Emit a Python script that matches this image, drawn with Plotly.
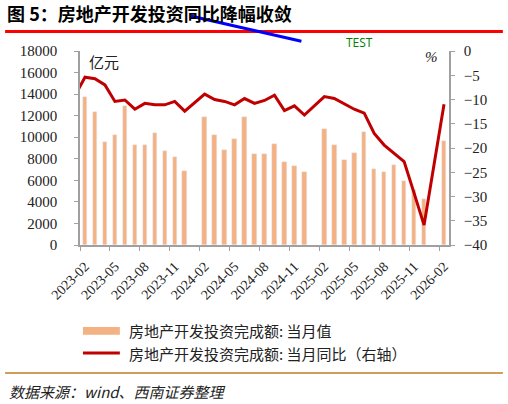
import plotly.graph_objects as go

# months shown on the axis (2023-02 .. 2026-02); the line also has a 2023-01 point
months = ["2023-01", "2023-02", "2023-03", "2023-04", "2023-05", "2023-06", "2023-07",
          "2023-08", "2023-09", "2023-10", "2023-11", "2023-12",
          "2024-01", "2024-02", "2024-03", "2024-04", "2024-05", "2024-06", "2024-07",
          "2024-08", "2024-09", "2024-10", "2024-11", "2024-12",
          "2025-01", "2025-02", "2025-03", "2025-04", "2025-05", "2025-06", "2025-07",
          "2025-08", "2025-09", "2025-10", "2025-11", "2025-12",
          "2026-01", "2026-02"]

# 当月值 (亿元), January has no separate figure
invest_value = [None, 13700, 12300, 9550, 10200, 12900, 9250,
                9250, 10400, 8700, 8150, 6900,
                None, 11900, 10200, 8800, 9800, 11900, 8430,
                8450, 9370, 7700, 7300, 6750,
                None, 10750, 9250, 7900, 8550, 10500, 7020,
                6750, 7420, 5930, 5100, 4250,
                None, 9680]

# 当月同比 (%)
invest_yoy = [-9.2, -5.4, -5.7, -7.0, -10.4, -10.1, -12.0,
              -10.8, -11.1, -11.1, -10.4, -12.4,
              None, -8.9, -10.0, -10.4, -11.1, -9.8, -10.8,
              -10.2, -9.1, -12.3, -11.3, -13.2,
              None, -9.4, -9.8, -10.9, -12.0, -12.8, -17.0,
              -19.4, -21.1, -22.8, -29.3, -35.9,
              None, -11.0]

tick_months = months[1::3]

# position of each month: 2023-02 sits at 0
xpos = [i - 1 for i in range(len(months))]
tick_pos = [xpos[months.index(m)] for m in tick_months]

serif = "Liberation Serif"
cjk = "Noto Sans CJK SC"
bar_color = "#F4B183"
line_color = "#C00000"
axis_gray = "#A0A0A0"

fig = go.Figure()
fig.add_trace(go.Bar(x=xpos, y=invest_value, marker_color=bar_color, width=0.45,
                     name="房地产开发投资完成额: 当月值", showlegend=False))
fig.add_trace(go.Scatter(x=xpos, y=invest_yoy, yaxis="y2", mode="lines",
                         line=dict(color=line_color, width=3), connectgaps=True,
                         name="房地产开发投资完成额: 当月同比（右轴）", showlegend=False))

fig.update_layout(
    width=508, height=404,
    margin=dict(l=80, r=59, t=51, b=159),
    paper_bgcolor="white", plot_bgcolor="white",
    title=dict(text="<b>图 5：房地产开发投资同比降幅收敛</b>", x=0.014, xanchor="left",
               y=0.963, yanchor="middle", font=dict(family=cjk, size=18, color="black")),
    xaxis=dict(range=[-0.5, 36.5], tickmode="array", tickvals=tick_pos, ticktext=tick_months,
               tickangle=-45, ticks="", showgrid=False, zeroline=False,
               showline=True, linecolor=axis_gray, linewidth=1.5,
               tickfont=dict(family=serif, size=14, color="#222"),
               ticklabelstandoff=6,
               minor=dict(tickmode="array", tickvals=[p - 0.5 for p in tick_pos],
                          ticks="outside", ticklen=4, tickcolor=axis_gray, showgrid=False)),
    yaxis=dict(range=[0, 18000], dtick=2000, tickformat="d", ticks="outside", ticklen=4,
               tickcolor=axis_gray, showline=True, linecolor=axis_gray, linewidth=1.5,
               showgrid=False, zeroline=False, ticklabelstandoff=14,
               tickfont=dict(family=serif, size=15, color="#222")),
    yaxis2=dict(range=[-40, 0], dtick=5, overlaying="y", side="right", ticks="outside",
                ticklen=4, tickcolor=axis_gray, showline=True, linecolor=axis_gray,
                linewidth=1.5, showgrid=False, zeroline=False, ticklabelstandoff=6,
                tickfont=dict(family=serif, size=15, color="#222")),
    bargap=0,
)

# unit labels inside the plot
fig.add_annotation(text="亿元", xref="paper", yref="paper", x=0.019, y=0.948,
                   xanchor="left", yanchor="middle", showarrow=False,
                   font=dict(family=cjk, size=15, color="#222"))
fig.add_annotation(text="%", xref="paper", yref="paper", x=0.975, y=0.969,
                   xanchor="right", yanchor="middle", showarrow=False,
                   font=dict(family=serif, size=15, color="#222", style="italic"))

# hand-made legend with wide swatches
fig.add_shape(type="rect", xref="paper", yref="paper", x0=0.008, x1=0.108,
              y0=-0.443 - 0.02, y1=-0.443 + 0.02, fillcolor=bar_color, line_width=0)
fig.add_annotation(text="房地产开发投资完成额: 当月值", xref="paper", yref="paper",
                   x=0.127, y=-0.443, xanchor="left", yanchor="middle", showarrow=False,
                   font=dict(family=cjk, size=15, color="#222"))
fig.add_shape(type="line", xref="paper", yref="paper", x0=0.008, x1=0.108,
              y0=-0.557, y1=-0.557, line=dict(color=line_color, width=3))
fig.add_annotation(text="房地产开发投资完成额: 当月同比（右轴）", xref="paper", yref="paper",
                   x=0.127, y=-0.557, xanchor="left", yanchor="middle", showarrow=False,
                   font=dict(family=cjk, size=15, color="#222"))

# header rule under the title: drawn from the bottom edge upward as a tall frame,
# only its top edge is visible (the other edges are white)
fig.add_shape(type="line", xref="paper", yref="paper", x0=-0.203, x1=1.146,
              y0=1.1, y1=1.1, line=dict(color="red", width=3))
fig.add_shape(type="line", xref="paper", yref="paper", x0=0.3, x1=0.6,
              y0=1.18, y1=1.05, line=dict(color="blue", width=3))
fig.add_annotation(text="TEST", xref="paper", yref="paper", x=0.8, y=1.1,
                   showarrow=False, font=dict(color="green", size=12))
# footer rule and source note
fig.add_shape(type="line", xref="paper", yref="paper", x0=-0.203, x1=1.146,
              y0=-0.66, y1=-0.66, line=dict(color="#D09E5A", width=2))
fig.add_annotation(text="数据来源：wind、西南证券整理", xref="paper", yref="paper",
                   x=-0.198, y=-0.753, xanchor="left", yanchor="middle", showarrow=False,
                   font=dict(family=cjk, size=15, color="#222", style="italic"))

fig.write_html("out.html", config={"displayModeBar": False},
               post_script="document.body.style.margin = '0';")
